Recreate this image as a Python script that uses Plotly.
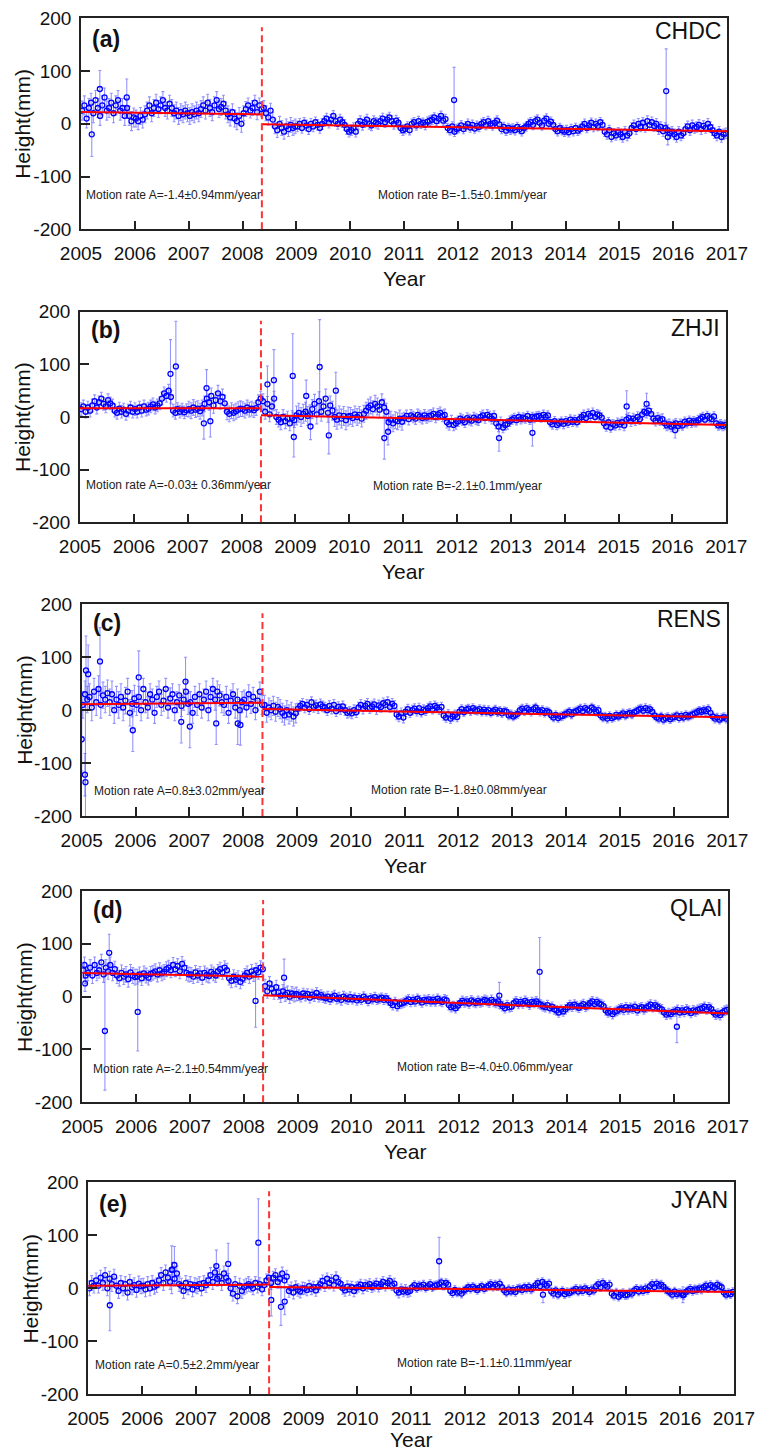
import plotly.graph_objects as go

# ---------------- data ----------------
# semi-monthly height estimates (mm), 24 values per year, 2005..2016
chdc_height = [
    25, 35, 10, 30, 40, 20, 45, 30, 15, 35, 50, 25, 30, 40, 20, 35, 45, 25, 30, 15, 30, 15, 5, 12,
    10, 5, 15, 8, 18, 25, 35, 20, 30, 40, 28, 35, 45, 30, 25, 38, 30, 20, 25, 15, 22, 18, 25, 20,
    15, 22, 18, 25, 20, 28, 35, 25, 40, 30, 22, 35, 45, 28, 32, 38, 25, 18, 12, 22, 10, 5, 15, 0,
    20, 28, 35, 25, 30, 40, 22, 35, 28, 30, 20, 12, 25, 8, -5, -12, 0, -8, -15, -5, -10, -2, -8, -5,
    -5, 0, -8, 2, -3, -10, 0, -5, 3, -2, -8, 0, 5, 10, 2, 8, 15, 5, 0, 8, 3, -2, -10, -15,
    -12, -8, -15, 0, 5, -2, 3, 8, 0, -3, 5, 2, 0, 5, 10, 3, 8, 12, 5, 0, 6, 2, -8, -12,
    -10, -5, -12, 0, 3, -3, 5, 0, 2, -2, 4, 6, 8, 12, 5, 10, 15, 6, 9, -8, -12, -5, -15, -10,
    -8, -3, -10, -5, 0, -7, -2, -9, -4, -6, 0, 3, -2, 5, 0, -3, 2, 6, -1, -10, -6, -13, -8, -11,
    -9, -12, -6, -10, -14, -8, -5, 0, 3, -2, 5, 8, 2, -3, 6, 10, 0, 4, -2, -10, -14, -8, -12, -15,
    -12, -16, -10, -14, -8, -13, -10, -5, 0, -8, -3, 2, -6, 0, -4, 3, -2, -15, -20, -12, -25, -18, -22, -16,
    -20, -25, -15, -22, -18, -8, -3, -10, 0, -5, 2, -6, 5, -2, 3, -4, 0, -10, -6, -14, -8, -12, -18, -15,
    -20, -25, -15, -22, -18, -10, -5, -12, -3, -8, -6, -2, -10, -4, -8, 0, -6, -12, -18, -22, -15, -25, -20, -18,
]
zhji_height = [
    15, 20, 10, 18, 12, 22, 30, 18, 28, 35, 25, 20, 32, 26, 22, 12, 8, 16, 10, 14, 6, 12, 18, 10,
    15, 10, 18, 12, 20, 14, 16, 20, 24, 18, 22, 26, 35, 45, 40, 50, 38, 12, 8, 15, 10, 14, 9, 13,
    15, 12, 18, 14, 16, 11, 17, 25, 35, 28, 40, 22, 32, 45, 30, 38, 26, 10, 6, 12, 8, 11, 14, 16,
    15, 12, 18, 14, 16, 13, 17, 28, 35, 30, 10, 25, 5, 20, 35, 0, -5, -10, 0, -8, -3, -12, -2, -6,
    3, 8, 0, 6, 10, 2, 5, 15, 25, 5, 30, 10, 20, 35, 8, 22, 12, 0, -5, 3, -3, 2, -6, 1,
    2, -2, 5, 0, 4, -3, 6, 12, 18, 22, 15, 25, 20, 14, 28, 18, 10, -10, -5, -12, -6, -8, -3, -9,
    -2, 2, -4, 3, 0, -3, 4, 1, -2, 3, -1, 2, 3, 6, 0, 5, 8, 2, 4, -10, -14, -8, -15, -12,
    -8, -3, -6, -10, -2, -5, -7, -1, -4, -6, 0, 3, -2, 4, 1, -3, 2, -12, -18, -10, -20, -15, -13, -8,
    -5, -2, -6, 0, -4, -1, -3, 2, -5, 0, -2, 1, 2, -1, 4, 0, 3, -10, -14, -8, -15, -12, -9, -13,
    -8, -11, -5, -9, -6, -10, -4, 0, 4, -2, 6, 2, 8, 0, 5, 3, -1, -12, -18, -10, -20, -14, -16, -11,
    -14, -10, -16, -5, -2, -8, -3, -6, 0, -4, 5, 10, 8, 12, 6, -3, -7, -2, -6, -4, -12, -16, -14, -18,
    -15, -12, -17, -13, -16, -9, -12, -7, -11, -8, -10, -6, -3, 0, -5, 2, -2, -4, 1, -12, -16, -14, -17, -15,
]
rens_height = [
    10, 30, 20, 25, 5, 35, 15, 40, 10, 28, 20, 32, 15, 30, 0, 20, 10, 25, 5, 18, 35, -5, 12, 22,
    10, 25, 0, 40, 15, 5, 30, 20, -5, 25, 35, 10, 18, 40, 5, 22, 30, 0, 15, 28, 8, 20, 35, 12,
    15, -5, 25, 10, 30, 5, 20, 35, 0, 25, 40, 20, 35, 28, 15, 10, 25, -5, 18, 30, 5, 20, 0, 15,
    20, 5, 30, 12, 25, 0, 18, 35, 10, 10, -5, 5, 0, 8, -3, 6, 2, -5, -10, 0, -8, -3, -12, -6,
    3, 8, 12, 5, 10, 2, 15, 6, 9, 4, 11, 7, 5, 0, 8, 3, 10, -2, 6, 2, 7, 0, -5, -3,
    -6, 0, -4, 5, 10, 3, 8, 12, 4, 7, 11, 2, 9, 6, 13, 10, 15, 6, 12, 8, -8, -12, -6, -14,
    -3, 2, -5, 0, 3, -2, 4, -4, 1, -1, 4, 7, 2, 8, 5, 1, 6, -10, -14, -8, -16, -12, -9, -13,
    -3, 2, -4, 1, 3, -2, 4, 0, -1, 2, -3, 1, -3, 0, -5, -2, 1, -4, -1, -6, -2, -3, -10, -8,
    -12, -9, -7, 0, 3, -2, 4, 1, -3, 2, 5, 0, -3, 0, -5, -2, -4, -10, -14, -9, -15, -12, -11, -8,
    -6, -3, -8, -4, -2, 0, 3, -2, 4, 1, -1, 5, 2, -3, 0, -10, -14, -12, -16, -11, -15, -13, -9, -12,
    -9, -6, -10, -7, -5, -8, -4, -2, 1, 3, -1, 4, 0, 2, -3, -10, -14, -16, -12, -18, -15, -13, -17, -14,
    -13, -10, -15, -11, -14, -9, -12, -10, -8, -6, -4, -1, -3, 0, -2, 2, -5, -12, -16, -14, -18, -15, -13, -16,
]
qlai_height = [
    50, 40, 45, 55, 40, 60, 45, 50, 65, 42, 55, 48, 60, 45, 52, 40, 35, 45, 38, 42, 33, 46, 40, 37,
    38, 42, 35, 44, 40, 36, 43, 45, 48, 42, 50, 44, 47, 52, 55, 50, 60, 52, 58, 48, 62, 55, 45, 42,
    42, 38, 46, 40, 44, 36, 45, 41, 39, 47, 43, 40, 48, 52, 46, 55, 50, 35, 30, 38, 32, 36, 28, 34,
    40, 45, 38, 48, 42, 50, 46, 55, 52, 20, 10, 25, 15, 8, 18, 8, 2, 10, 4, 7, 0, 6, 3, 5,
    3, 0, 6, 2, 5, -2, 4, 1, 7, 0, 3, -1, -3, 0, -5, -1, 2, -4, -2, -6, 0, -3, -5, -1,
    -5, -2, -7, -3, -6, 0, -4, -8, -3, -5, -1, -6, -4, -2, -6, -3, -7, -12, -16, -10, -18, -14, -13, -11,
    -8, -5, -10, -6, -9, -4, -7, -11, -6, -8, -5, -9, -6, -9, -4, -8, -10, -5, -7, -16, -20, -18, -22, -17,
    -12, -8, -11, -9, -13, -7, -10, -12, -8, -11, -9, -6, -8, -11, -6, -10, -12, -9, -14, -18, -22, -16, -20, -19,
    -12, -9, -14, -10, -13, -8, -11, -15, -10, -12, -9, -13, -15, -18, -20, -16, -22, -19, -24, -26, -30, -25, -28, -24,
    -20, -16, -19, -15, -18, -21, -17, -14, -19, -16, -12, -9, -14, -10, -13, -15, -18, -26, -30, -28, -33, -29, -27, -24,
    -22, -25, -20, -24, -21, -23, -19, -26, -22, -20, -24, -21, -18, -15, -20, -16, -19, -22, -24, -30, -34, -31, -33, -29,
    -28, -25, -30, -26, -29, -24, -27, -31, -26, -28, -25, -23, -22, -19, -24, -20, -23, -30, -34, -32, -35, -30, -27, -25,
]
jyan_height = [
    0, 10, 5, 15, 5, 20, 10, 25, 0, 18, 8, 22, 5, -5, 10, 0, 8, -8, 12, 2, 6, -3, 9, 4,
    5, -2, 8, 0, 10, 3, 6, 15, 25, 10, 30, 20, 12, 35, 18, 28, 8, 5, -5, 10, 2, 8, -2, 6,
    4, 8, 0, 10, 6, 15, 25, 12, 30, 18, 22, 10, 28, 20, 14, 0, -10, 8, -15, 5, -5, 2, 5, 8,
    5, 0, 10, 3, 8, -2, 6, 15, 20, 10, 20, 25, 12, 18, 28, 15, 22, -5, 0, -8, 2, -3, -6, 0,
    0, -3, 4, -1, 2, -4, 3, 8, 14, 5, 18, 10, 15, 6, 20, 12, 9, 0, -4, 3, -2, 2, -5, 1,
    3, 7, 0, 6, 4, 8, 2, 5, 9, 3, 8, 12, 5, 10, 14, 6, 9, -4, -8, -2, -6, -3, -7, -5,
    2, 6, 0, 5, 3, 7, 1, 4, 8, 2, 5, 6, 8, 11, 5, 10, 7, -5, -9, -3, -8, -6, -10, -4,
    -2, 2, -1, 3, 0, -3, 1, 4, -1, 2, 5, 8, 3, 7, 4, 9, 2, -4, -8, -2, -6, -3, -7, -1,
    0, -3, 2, -1, 3, -2, 1, 6, 10, 4, 12, 8, 5, 9, -6, -10, -4, -12, -8, -5, -11, -7, -9, -6,
    -4, -1, -6, -2, -5, 0, -3, -7, -2, -4, 4, 8, 2, 10, 6, 3, 7, -10, -14, -8, -16, -12, -9, -13,
    -12, -8, -10, -4, -1, -6, -2, -5, 0, -3, 4, 8, 2, 9, 5, 7, 3, -2, -5, -8, -12, -6, -11, -9,
    -10, -13, -7, -4, -1, -5, -2, -3, 0, -2, 2, 5, 0, 6, 3, 1, 7, 4, 2, -8, -12, -9, -11, -7,
]

# typical 1-sigma error bar (mm) per year 2005..2016
chdc_sigma = [18, 16, 16, 14, 10, 10, 9, 9, 9, 9, 10, 10]
zhji_sigma = [12, 12, 15, 14, 18, 16, 11, 10, 9, 9, 10, 9]
rens_sigma = [25, 20, 20, 18, 10, 10, 9, 8, 8, 8, 8, 8]
qlai_sigma = [15, 14, 13, 13, 10, 9, 9, 9, 9, 9, 9, 9]
jyan_sigma = [14, 14, 14, 12, 11, 10, 8, 8, 8, 8, 8, 8]

# isolated outliers: year, height (mm), error (mm)
chdc_out_t = [2005.20, 2005.35, 2005.85, 2011.93, 2015.87, 2015.90]
chdc_out_h = [-20, 66, 50, 45, 62, -25]
chdc_out_e = [42, 35, 35, 62, 80, 15]
zhji_out_t = [2006.68, 2006.78, 2007.30, 2007.35, 2007.42, 2008.48, 2008.60, 2008.95, 2008.97,
              2009.20, 2009.28, 2009.45, 2009.62, 2009.75, 2010.65, 2010.72, 2012.78, 2013.40,
              2015.15, 2015.52, 2016.05]
zhji_out_h = [82, 96, -12, 55, -8, 62, 70, 78, -38, 40, -18, 95, -35, 50, -40, -28, -40, -30, 20, 25, -25]
zhji_out_e = [65, 86, 30, 35, 30, 35, 58, 80, 38, 30, 25, 90, 35, 35, 40, 25, 25, 25, 30, 20, 15]
rens_out_t = [2005.00, 2005.06, 2005.07, 2005.08, 2005.12, 2005.34, 2005.95, 2006.06, 2006.85,
              2006.93, 2007.01, 2007.50, 2007.90, 2007.95]
rens_out_h = [-55, -122, -136, 75, 68, 92, -38, 62, -22, 54, -31, -25, -25, -28]
rens_out_e = [60, 40, 150, 65, 55, 64, 40, 50, 40, 46, 40, 40, 40, 38]
qlai_out_t = [2005.04, 2005.05, 2005.42, 2005.50, 2006.03, 2008.22, 2008.75, 2012.75, 2013.50, 2016.05]
qlai_out_h = [60, 25, -65, 83, -29, -8, 36, 2, 47, -57]
qlai_out_e = [15, 15, 112, 35, 74, 50, 35, 25, 65, 30]
jyan_out_t = [2005.40, 2006.55, 2006.60, 2007.38, 2007.60, 2008.16, 2008.40, 2008.58, 2008.65,
              2011.52, 2013.45, 2016.05]
jyan_out_h = [-32, 35, 44, 42, 46, 86, -22, -35, -25, 51, -12, -12]
jyan_out_e = [48, 45, 35, 30, 39, 83, 30, 35, 25, 45, 15, 15]

# fitted trend lines: [height at start, height at end] of each segment
break_year = 2008.36
chdc_fit_A, chdc_fit_B = [22.5, 17.8], [-1.0, -14.0]
zhji_fit_A, zhji_fit_B = [16.5, 16.4], [3.5, -15.0]
rens_fit_A, rens_fit_B = [11.0, 14.0], [2.0, -13.5]
qlai_fit_A, qlai_fit_B = [45.0, 38.0], [2.5, -32.0]
jyan_fit_A, jyan_fit_B = [5.0, 7.0], [2.5, -7.0]

stations = ["CHDC", "ZHJI", "RENS", "QLAI", "JYAN"]
panel_tags = ["(a)", "(b)", "(c)", "(d)", "(e)"]
rate_A = ["Motion rate A=-1.4±0.94mm/year", "Motion rate A=-0.03± 0.36mm/year",
          "Motion rate A=0.8±3.02mm/year", "Motion rate A=-2.1±0.54mm/year",
          "Motion rate A=0.5±2.2mm/year"]
rate_B = ["Motion rate B=-1.5±0.1mm/year", "Motion rate B=-2.1±0.1mm/year",
          "Motion rate B=-1.8±0.08mm/year", "Motion rate B=-4.0±0.06mm/year",
          "Motion rate B=-1.1±0.11mm/year"]
year_ticks = list(range(2005, 2018))
height_ticks = [-200, -100, 0, 100, 200]
height_tick_text = ["-200", "-100", "0", "100", "200"]

heights = [chdc_height, zhji_height, rens_height, qlai_height, jyan_height]
sigmas = [chdc_sigma, zhji_sigma, rens_sigma, qlai_sigma, jyan_sigma]
outs = [(chdc_out_t, chdc_out_h, chdc_out_e), (zhji_out_t, zhji_out_h, zhji_out_e),
        (rens_out_t, rens_out_h, rens_out_e), (qlai_out_t, qlai_out_h, qlai_out_e),
        (jyan_out_t, jyan_out_h, jyan_out_e)]
fits = [(chdc_fit_A, chdc_fit_B), (zhji_fit_A, zhji_fit_B), (rens_fit_A, rens_fit_B),
        (qlai_fit_A, qlai_fit_B), (jyan_fit_A, jyan_fit_B)]

# ---------------- layout geometry (pixels) ----------------
W, H = 759, 1452
boxes = [  # left, right, top, bottom
    (81, 727, 18.3, 229.3),
    (80, 726.3, 311.7, 522.3),
    (81.7, 727.3, 604.3, 816),
    (82.3, 728, 891, 1102.3),
    (88.3, 734, 1182.3, 1394.3),
]
year_gap = [49, 49, 49, 49, 45]
text_A_pos = [(2005.06, -135), (2005.07, -129), (2005.19, -153), (2005.16, -137), (2005.08, -145)]
text_B_pos = [(2010.48, -135), (2010.40, -131), (2010.34, -151), (2010.81, -133), (2010.70, -140)]
tag_y = [161, 165, 164, 164, 160]
stn_y = [175, 169, 172, 167, 167]

FONT = "Arial, Liberation Sans, sans-serif"
BLUE = "#0000FF"
fig = go.Figure()
annotations = []
shapes = []
layout = {}

for i in range(5):
    n = i + 1
    xs = "" if n == 1 else str(n)
    xa, ya = "x" + xs, "y" + xs
    vals = heights[i]
    t = [2005 + (k + 0.5) / 24 for k in range(len(vals))]
    err = [sigmas[i][k // 24] for k in range(len(vals))]
    ot, oh, oe = outs[i]
    fig.add_trace(go.Scatter(
        x=t + ot, y=vals + oh, mode="markers", xaxis=xa, yaxis=ya,
        marker=dict(symbol="circle-open", size=5, color=BLUE, line=dict(width=1.3, color=BLUE)),
        error_y=dict(type="data", array=err + oe, color="rgba(60,60,255,0.55)", thickness=1.1, width=1.5),
        showlegend=False, hoverinfo="skip"))
    fa, fb = fits[i]
    fig.add_trace(go.Scatter(x=[2005, break_year], y=fa, mode="lines", xaxis=xa, yaxis=ya,
                             line=dict(color="#FF0000", width=2), showlegend=False))
    fig.add_trace(go.Scatter(x=[break_year, 2017], y=fb, mode="lines", xaxis=xa, yaxis=ya,
                             line=dict(color="#FF0000", width=2), showlegend=False))

    l, r, tp, bt = boxes[i]
    axis_common = dict(showline=True, linecolor="#222", linewidth=1.6, mirror=True,
                       ticks="inside", ticklen=9, tickwidth=1.6, tickcolor="#222",
                       showgrid=False, zeroline=False, automargin=False,
                       tickfont=dict(family=FONT, size=19, color="#111"))
    layout["xaxis" + xs] = dict(axis_common, domain=[l / W, r / W], anchor=ya, range=[2005, 2017],
                                tickvals=year_ticks, ticktext=[str(v) for v in year_ticks],
                                ticklabelstandoff=6)
    layout["yaxis" + xs] = dict(axis_common, domain=[1 - bt / H, 1 - tp / H], anchor=xa,
                                range=[-200, 200], tickvals=height_ticks, ticktext=height_tick_text,
                                ticklabelstandoff=4)

    shapes.append(dict(type="line", xref=xa, yref=ya, x0=break_year, x1=break_year, y0=-200, y1=183,
                       line=dict(color="#FF3333", width=2, dash="7px,4px")))
    annotations += [
        dict(xref=xa, yref=ya, x=2005, y=tag_y[i], xshift=9, text="<b>" + panel_tags[i] + "</b>",
             showarrow=False, xanchor="left", yanchor="middle", font=dict(family=FONT, size=23, color="#111")),
        dict(xref=xa, yref=ya, x=2017, y=stn_y[i], xshift=-4, text=stations[i], showarrow=False,
             xanchor="right", yanchor="middle", font=dict(family=FONT, size=23, color="#111")),
        dict(xref=xa, yref=ya, x=text_A_pos[i][0], y=text_A_pos[i][1], text=rate_A[i], showarrow=False,
             xanchor="left", yanchor="middle", font=dict(family=FONT, size=12, color="#222")),
        dict(xref=xa, yref=ya, x=text_B_pos[i][0], y=text_B_pos[i][1], text=rate_B[i], showarrow=False,
             xanchor="left", yanchor="middle", font=dict(family=FONT, size=12, color="#222")),
        dict(xref="paper", yref="paper", x=(l + r) / 2 / W, y=1 - (bt + year_gap[i]) / H, text="Year",
             showarrow=False, xanchor="center", yanchor="middle", font=dict(family=FONT, size=21, color="#111")),
        dict(xref="paper", yref="paper", x=(l - 58) / W, y=1 - (tp + bt) / 2 / H, text="Height(mm)",
             textangle=-90, showarrow=False, xanchor="center", yanchor="middle",
             font=dict(family=FONT, size=21, color="#111")),
    ]

fig.update_layout(width=W, height=H, margin=dict(l=0, r=0, t=0, b=0, autoexpand=False),
                  template="none", paper_bgcolor="white", plot_bgcolor="white",
                  annotations=annotations, shapes=shapes, **layout)
fig.write_html("out.html")
